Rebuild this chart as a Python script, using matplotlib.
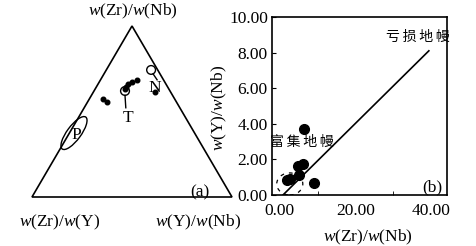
import numpy as np
import matplotlib
matplotlib.use("Agg")
import matplotlib.pyplot as plt
from matplotlib.patches import Ellipse, Circle, Polygon

plt.rcParams['font.family'] = ['Liberation Serif', 'Noto Sans CJK SC']
plt.rcParams['mathtext.fontset'] = 'custom'
plt.rcParams['mathtext.rm'] = 'Liberation Serif'
plt.rcParams['mathtext.it'] = 'Liberation Serif:italic'

# (a) ternary: fractions of apex Zr/Nb and right corner Y/Nb (left corner Zr/Y is the rest)
dots_top = [0.684, 0.673, 0.661, 0.643, 0.632, 0.573, 0.556, 0.614]
dots_right = [0.183, 0.164, 0.150, 0.148, 0.150, 0.068, 0.097, 0.308]
# marked fields: circles T and N, ellipse P
T_top, T_right = 0.620, 0.155
N_top, N_right = 0.743, 0.224
P_top, P_right = 0.374, 0.023

# (b) w(Zr)/w(Nb) vs w(Y)/w(Nb)
zr_nb = [6.4, 4.8, 6.2, 5.1, 2.6, 2.0, 9.0]
y_nb = [3.69, 1.65, 1.74, 1.12, 0.90, 0.84, 0.66]
line_x = [0.8, 39.4]
line_y = [0.0, 8.1]

LAB_TOP = '$w$(Zr)/$w$(Nb)'
LAB_LEFT = '$w$(Zr)/$w$(Y)'
LAB_RIGHT = '$w$(Y)/$w$(Nb)'
FS = 12.5
CJK = ['Noto Sans CJK SC', 'DejaVu Sans']


def tern(top, right):
    top = np.asarray(top)
    right = np.asarray(right)
    return right + top / 2, top * np.sqrt(3) / 2


fig = plt.figure(figsize=(4.76, 2.46), dpi=100)

# ---- panel (a)
ax1 = fig.add_axes([32 / 476, 1 - 197 / 246, 200 / 476, 171 / 246])
ax1.set_xlim(0, 1)
ax1.set_ylim(0, np.sqrt(3) / 2)
ax1.axis('off')
ax1.add_patch(Polygon([[0, 0], [1, 0], [0.5, np.sqrt(3) / 2]], closed=True,
                      fill=False, ec='black', lw=1.2, clip_on=False))
x, y = tern(dots_top, dots_right)
ax1.plot(x, y, 'o', color='black', ms=3.3, clip_on=False)

tx, ty = tern(T_top, T_right)
ax1.add_patch(Circle((tx, ty), 0.022, fill=False, ec='black', lw=1.0))
ax1.plot([tx, tx + 0.004], [ty - 0.022, ty - 0.085], color='black', lw=1.0)
ax1.text(tx + 0.015, ty - 0.095, 'T', ha='center', va='top', fontsize=FS)

nx, ny = tern(N_top, N_right)
ax1.add_patch(Circle((nx, ny), 0.022, fill=False, ec='black', lw=1.0))
ax1.plot([nx + 0.01, nx + 0.03], [ny - 0.02, ny - 0.05], color='black', lw=1.0)
ax1.text(nx + 0.02, ny - 0.05, 'N', ha='center', va='top', fontsize=FS)

px, py = tern(P_top, P_right)
ax1.add_patch(Ellipse((px, py), 0.2, 0.07, angle=54, fill=False, ec='black', lw=1.0))
ax1.text(px + 0.01, py - 0.01, 'P', ha='center', va='center', fontsize=FS)

ax1.text(0.505, 0.89, LAB_TOP, ha='center', va='bottom', fontsize=FS)
ax1.text(0.14, -0.08, LAB_LEFT, ha='center', va='top', fontsize=FS)
ax1.text(0.83, -0.08, LAB_RIGHT, ha='center', va='top', fontsize=FS)
ax1.text(0.84, 0.025, '(a)', ha='center', va='center', fontsize=FS)

# ---- panel (b)
ax2 = fig.add_axes([272 / 476, 1 - 195 / 246, 175 / 476, 178 / 246])
ax2.plot(zr_nb, y_nb, 'o', color='black', ms=7)
ax2.plot(line_x, line_y, color='black', lw=1.2)
ax2.add_patch(Ellipse((2.6, 0.62), 6.9, 1.24, angle=0, fill=False, ec='black',
                      lw=0.9, ls=(0, (3, 4))))
ax2.set_xlim(-2.1, 44.2)
ax2.set_ylim(0, 10)
ax2.set_xticks([0, 20, 40])
ax2.set_xticklabels(['0.00', '20.00', '40.00'])
ax2.set_xticks([10, 20, 30], minor=True)
ax2.set_yticks([0, 2, 4, 6, 8, 10])
ax2.set_yticklabels(['0.00', '2.00', '4.00', '6.00', '8.00', '10.00'])
ax2.tick_params(axis='x', which='major', length=0, pad=6, labelsize=FS)
ax2.tick_params(axis='x', which='minor', direction='in', length=3)
ax2.tick_params(axis='y', direction='in', length=3, pad=3, labelsize=FS)
for s in ax2.spines.values():
    s.set_linewidth(1.2)
ax2.set_xlabel(LAB_TOP, fontsize=FS)
ax2.xaxis.set_label_coords(0.55, -0.185)
ax2.set_ylabel(LAB_RIGHT, fontsize=FS)
ax2.yaxis.set_label_coords(-0.246, 0.49)
ax2.text(36.5, 8.9, '\u2009'.join('亏损地幔'), ha='center', va='center',
         fontsize=10, family=CJK)
ax2.text(5.8, 3.0, '\u2009'.join('富集地幔'), ha='center', va='center',
         fontsize=10, family=CJK)
ax2.text(40.2, 0.45, '(b)', ha='center', va='center', fontsize=FS)

fig.savefig('out.png', dpi=100)
